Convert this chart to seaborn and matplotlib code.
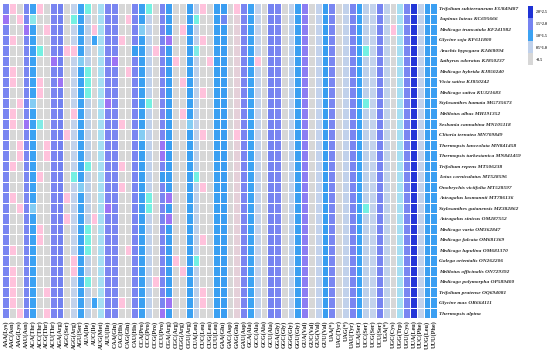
import matplotlib
matplotlib.use("Agg")
import numpy as np
import pandas as pd
import matplotlib.pyplot as plt
import seaborn as sns
from matplotlib.colors import LinearSegmentedColormap

# codons on the x axis (alphabetical, A C G U)
codons = [
    "AAA(Lys)", "AAC(Asn)", "AAG(Lys)", "AAU(Asn)", "ACA(Thr)", "ACC(Thr)", "ACG(Thr)", "ACU(Thr)",
    "AGA(Arg)", "AGC(Ser)", "AGG(Arg)", "AGU(Ser)", "AUA(Ile)", "AUC(Ile)", "AUG(Met)", "AUU(Ile)",
    "CAA(Gln)", "CAC(His)", "CAG(Gln)", "CAU(His)", "CCA(Pro)", "CCC(Pro)", "CCG(Pro)", "CCU(Pro)",
    "CGA(Arg)", "CGC(Arg)", "CGG(Arg)", "CGU(Arg)", "CUA(Leu)", "CUC(Leu)", "CUG(Leu)", "CUU(Leu)",
    "GAA(Glu)", "GAC(Asp)", "GAG(Glu)", "GAU(Asp)", "GCA(Ala)", "GCC(Ala)", "GCG(Ala)", "GCU(Ala)",
    "GGA(Gly)", "GGC(Gly)", "GGG(Gly)", "GGU(Gly)", "GUA(Val)", "GUC(Val)", "GUG(Val)", "GUU(Val)",
    "UAA(*)", "UAC(Tyr)", "UAG(*)", "UAU(Tyr)", "UCA(Ser)", "UCC(Ser)", "UCG(Ser)", "UCU(Ser)",
    "UGA(*)", "UGC(Cys)", "UGG(Trp)", "UGU(Cys)", "UUA(Leu)", "UUC(Phe)", "UUG(Leu)", "UUU(Phe)",
]

species = [
    "Trifolium subterraneum EU849487", "Lupinus luteus KC695666", "Medicago truncatula KF241982",
    "Glycine soja KF611800", "Arachis hypogaea KJ468094", "Lathyrus odoratus KJ850237",
    "Medicago hybrida KJ850240", "Vicia sativa KJ850242", "Medicago sativa KU321683",
    "Stylosanthes hamata MG735673", "Melilotus albus MH191352", "Sesbania cannabina MN105118",
    "Clitoria ternatea MN709849", "Thermopsis lanceolata MN841458", "Thermopsis turkestanica MN841459",
    "Trifolium repens MT506238", "Lotus corniculatus MT528596", "Onobrychis viciifolia MT528597",
    "Astragalus laxmannii MT786136", "Stylosanthes guianensis MZ382862", "Astragalus sinicus OM287552",
    "Medicago varia OM362847", "Medicago falcata OM681369", "Medicago lupulina OM681370",
    "Galega orientalis ON262206", "Melilotus officinalis ON729392", "Medicago polymorpha OP589400",
    "Trifolium pratense OQ694081", "Glycine max OR664111", "Thermopsis alpina",
]

# RSCU values, one row per species (64 codons each)
rscu = [
    [1.60,0.55,0.45,1.60,1.25,0.55,0.40,1.62,1.85,0.40,0.70,1.25,0.96,0.44,1.00,1.58,
     1.60,0.42,0.45,1.62,1.30,0.96,0.42,1.62,1.35,0.40,0.44,1.30,0.80,0.55,0.40,1.30,
     1.38,0.42,0.55,1.62,1.20,0.68,0.42,1.75,1.62,0.40,0.70,1.30,1.55,0.44,0.68,1.40,
     1.60,0.42,0.72,1.62,1.25,0.80,0.68,1.70,0.75,0.44,1.00,1.60,2.10,0.70,1.30,1.32],
    [1.50,0.42,0.55,1.60,0.98,0.44,0.40,1.62,1.85,0.40,0.96,1.25,0.88,0.44,1.00,1.58,
     1.60,0.42,0.55,1.62,1.30,0.75,0.42,1.62,1.35,0.40,0.44,1.30,0.96,0.45,0.40,1.30,
     1.45,0.42,0.48,1.62,1.20,0.68,0.42,1.75,1.62,0.40,0.70,1.30,1.55,0.44,0.68,1.40,
     1.60,0.42,0.72,1.62,1.25,0.80,0.68,1.70,0.75,0.44,1.00,1.60,2.05,0.70,1.30,1.32],
    [1.60,0.42,0.45,1.50,1.25,0.44,0.55,1.62,1.85,0.40,0.70,1.25,0.88,0.55,1.00,1.58,
     1.60,0.42,0.45,1.62,1.02,0.75,0.42,1.62,1.35,0.40,0.55,1.30,0.80,0.45,0.40,1.30,
     1.38,0.42,0.48,1.62,1.20,0.68,0.42,1.75,1.62,0.40,0.70,1.30,1.55,0.44,0.68,1.40,
     1.60,0.42,0.72,1.62,1.25,0.80,0.68,1.70,0.75,0.55,1.00,1.60,2.10,0.70,1.30,1.32],
    [1.60,0.56,0.45,1.60,1.25,0.44,0.40,1.62,1.85,0.40,0.70,1.25,0.88,1.20,1.00,1.58,
     1.60,0.55,0.45,1.62,1.30,0.75,0.42,1.62,1.50,0.40,0.44,1.30,0.80,0.56,0.40,1.30,
     1.38,0.42,0.48,1.62,1.20,0.68,0.42,1.75,1.62,0.40,0.70,1.30,1.55,0.44,0.68,1.40,
     1.60,0.42,0.72,1.62,1.25,0.80,0.68,1.70,0.75,0.44,1.00,1.60,2.10,0.70,1.30,1.32],
    [1.60,0.42,0.45,1.60,1.25,0.96,0.40,1.62,1.85,0.55,0.56,1.25,0.88,0.44,1.00,1.58,
     1.60,0.42,0.45,1.40,1.30,0.75,0.55,1.62,1.35,0.40,0.44,1.30,0.97,0.45,0.40,1.30,
     1.38,0.42,0.48,1.62,1.20,0.68,0.42,1.75,1.62,0.40,0.70,1.30,1.55,0.44,0.68,1.40,
     1.60,0.42,0.72,1.62,1.25,0.96,0.68,1.70,0.75,0.44,1.00,1.60,2.10,0.70,1.30,1.32],
    [1.60,0.42,0.45,1.60,1.25,0.44,0.40,1.50,1.85,0.40,0.70,1.02,0.88,0.44,1.00,1.58,
     1.50,0.42,0.45,1.62,1.30,0.75,0.42,1.62,1.35,0.55,0.44,1.30,0.80,0.45,0.55,1.30,
     1.38,0.42,0.48,1.62,1.20,0.55,0.42,1.75,1.62,0.40,0.70,1.30,1.55,0.44,0.68,1.40,
     1.60,0.42,0.72,1.62,1.25,0.80,0.68,1.70,0.75,0.44,1.00,1.60,2.10,0.70,1.30,1.32],
    [1.60,0.55,0.45,1.60,1.25,0.44,0.40,1.62,1.85,0.40,0.70,1.25,0.96,0.44,1.00,1.58,
     1.60,0.42,0.55,1.62,1.30,0.75,0.42,1.62,1.35,0.40,0.44,1.30,0.80,0.45,0.40,1.30,
     1.38,0.42,0.48,1.62,1.20,0.68,0.42,1.75,1.62,0.40,0.70,1.30,1.55,0.44,0.68,1.40,
     1.60,0.42,0.72,1.62,1.25,0.80,0.68,1.70,0.75,0.44,1.00,1.60,2.10,0.70,1.30,1.32],
    [1.60,0.55,0.45,1.60,1.25,0.55,0.40,1.62,1.50,0.40,0.70,1.25,0.96,0.44,1.00,1.58,
     1.60,0.42,0.45,1.62,1.30,0.75,0.42,1.62,1.35,0.40,0.55,1.30,0.80,0.45,0.40,1.30,
     1.38,0.42,0.48,1.62,1.20,0.68,0.42,1.75,1.62,0.40,0.70,1.30,1.55,0.44,0.68,1.40,
     1.60,0.42,0.72,1.62,1.25,0.80,0.68,1.70,0.75,0.44,1.00,1.60,2.10,0.70,1.30,1.32],
    [1.60,0.42,0.45,1.60,1.25,0.55,0.40,1.62,1.85,0.40,0.70,1.25,0.96,0.44,1.00,1.58,
     1.60,0.42,0.45,1.62,1.30,0.75,0.42,1.62,1.35,0.40,0.44,1.30,0.80,0.55,0.40,1.30,
     1.38,0.42,0.48,1.62,1.20,0.68,0.42,1.75,1.62,0.40,0.70,1.30,1.55,0.44,0.68,1.40,
     1.60,0.42,0.72,1.62,1.25,0.80,0.68,1.70,0.75,0.44,1.00,1.60,2.10,0.70,1.30,1.32],
    [1.60,0.42,0.55,1.60,1.02,0.44,0.40,1.62,1.85,0.40,0.70,1.25,0.88,0.44,1.00,1.50,
     1.60,0.42,0.45,1.62,1.30,0.96,0.42,1.62,1.35,0.40,0.44,1.30,0.80,0.45,0.40,1.30,
     1.38,0.42,0.48,1.62,1.20,0.68,0.42,1.75,1.62,0.40,0.70,1.30,1.55,0.44,0.68,1.40,
     1.60,0.42,0.72,1.62,1.25,0.96,0.68,1.70,0.75,0.44,1.00,1.60,2.10,0.70,1.30,1.32],
    [1.60,0.55,0.45,1.60,1.25,0.44,0.40,1.62,1.85,0.40,0.56,1.25,0.88,0.44,1.00,1.58,
     1.60,0.42,0.45,1.62,1.30,0.75,0.42,1.62,1.35,0.40,0.55,1.30,0.80,0.45,0.40,1.30,
     1.38,0.42,0.48,1.62,1.20,0.68,0.42,1.75,1.62,0.40,0.70,1.30,1.55,0.44,0.68,1.40,
     1.60,0.42,0.72,1.62,1.25,0.80,0.68,1.70,0.75,0.44,1.00,1.60,2.10,0.70,1.30,1.32],
    [1.60,0.55,0.45,1.50,1.25,0.97,0.40,1.62,1.85,0.40,0.70,1.25,0.88,0.44,1.00,1.58,
     1.60,0.55,0.45,1.62,1.30,0.75,0.42,1.62,1.35,0.40,0.44,1.02,0.80,0.45,0.40,1.30,
     1.38,0.42,0.48,1.62,1.20,0.68,0.42,1.75,1.62,0.40,0.70,1.30,1.55,0.44,0.68,1.40,
     1.60,0.42,0.72,1.62,1.25,0.80,0.68,1.70,0.75,0.44,1.00,1.60,2.10,0.70,1.30,1.32],
    [1.60,0.42,0.45,1.60,1.25,0.44,0.40,1.62,1.85,0.55,0.70,1.25,0.88,0.44,1.00,1.58,
     1.60,0.42,0.45,1.62,1.02,0.75,0.42,1.62,1.35,0.40,0.44,1.30,0.80,0.55,0.40,1.30,
     1.38,0.42,0.56,1.62,1.20,0.68,0.42,1.75,1.62,0.40,0.70,1.30,1.55,0.44,0.68,1.40,
     1.60,0.42,0.72,1.62,1.25,0.80,0.68,1.70,0.75,0.44,1.00,1.60,2.10,0.70,1.30,1.32],
    [1.60,0.42,0.55,1.60,1.25,0.44,0.55,1.62,1.85,0.40,0.70,1.25,0.88,0.44,1.00,1.58,
     1.60,0.42,0.45,1.62,1.30,0.75,0.42,1.50,1.35,0.40,0.44,1.30,0.80,0.45,0.40,1.30,
     1.38,0.42,0.48,1.62,1.20,0.68,0.42,1.75,1.62,0.40,0.70,1.30,1.55,0.44,0.68,1.40,
     1.60,0.42,0.72,1.62,1.25,0.80,0.68,1.70,0.75,0.44,1.00,1.60,2.10,0.70,1.30,1.32],
    [1.60,0.42,0.55,1.60,1.25,0.44,0.55,1.62,1.85,0.40,0.70,1.25,0.88,0.44,1.00,1.58,
     1.60,0.42,0.45,1.62,1.30,0.75,0.42,1.50,1.35,0.40,0.44,1.30,0.80,0.45,0.40,1.30,
     1.38,0.42,0.48,1.62,1.20,0.68,0.42,1.75,1.62,0.40,0.70,1.30,1.55,0.44,0.68,1.40,
     1.60,0.42,0.72,1.62,1.25,0.80,0.68,1.70,0.75,0.44,1.00,1.60,2.10,0.70,1.30,1.32],
    [1.60,0.55,0.45,1.60,1.25,0.44,0.40,1.62,1.85,0.40,0.70,1.25,0.96,0.44,1.00,1.58,
     1.60,0.55,0.45,1.62,1.30,0.75,0.42,1.62,1.35,0.40,0.44,1.30,0.80,0.45,0.40,1.30,
     1.38,0.42,0.48,1.62,1.20,0.68,0.42,1.75,1.62,0.40,0.70,1.30,1.55,0.44,0.68,1.40,
     1.60,0.42,0.72,1.62,1.25,0.80,0.68,1.70,0.75,0.44,1.00,1.60,2.10,0.70,1.30,1.32],
    [1.60,0.42,0.45,1.60,1.25,0.55,0.40,1.62,1.85,0.40,0.96,1.25,0.88,0.44,1.00,1.58,
     1.60,0.42,0.45,1.62,1.30,0.75,0.42,1.40,1.35,0.40,0.44,1.30,0.96,0.45,0.40,1.30,
     1.38,0.42,0.48,1.62,1.20,0.68,0.42,1.75,1.62,0.40,0.70,1.30,1.55,0.44,0.68,1.40,
     1.60,0.42,0.72,1.62,1.25,0.80,0.68,1.70,0.75,0.44,1.00,1.60,2.10,0.70,1.30,1.32],
    [1.60,0.42,0.45,1.60,1.25,0.44,0.40,1.62,1.85,0.40,0.70,1.02,0.88,0.44,1.00,1.58,
     1.60,0.55,0.45,1.62,1.30,0.75,0.42,1.62,1.35,0.40,0.44,1.30,0.80,0.55,0.40,1.30,
     1.38,0.42,0.48,1.62,1.20,0.68,0.42,1.75,1.62,0.40,0.70,1.30,1.55,0.44,0.68,1.40,
     1.60,0.42,0.72,1.62,1.25,0.80,0.68,1.70,0.75,0.44,1.00,1.60,2.10,0.70,1.30,1.32],
    [1.60,0.55,0.45,1.60,1.25,0.44,0.40,1.62,1.85,0.55,0.70,1.25,0.88,0.44,1.00,1.58,
     1.60,0.42,0.45,1.62,1.30,0.96,0.42,1.62,1.50,0.40,0.44,1.30,0.80,0.45,0.40,1.30,
     1.38,0.42,0.48,1.62,1.20,0.68,0.42,1.75,1.62,0.40,0.70,1.30,1.55,0.44,0.68,1.40,
     1.60,0.42,0.72,1.62,1.25,0.80,0.68,1.70,0.75,0.44,1.00,1.60,2.10,0.70,1.30,1.32],
    [1.60,0.42,0.55,1.60,1.02,0.44,0.40,1.62,1.85,0.40,0.70,1.25,0.88,0.44,1.00,1.50,
     1.60,0.42,0.45,1.62,1.30,0.96,0.42,1.62,1.35,0.40,0.44,1.30,0.80,0.45,0.40,1.30,
     1.38,0.42,0.48,1.62,1.20,0.68,0.42,1.75,1.62,0.40,0.70,1.30,1.55,0.44,0.68,1.40,
     1.60,0.42,0.72,1.62,1.25,0.96,0.68,1.70,0.75,0.44,1.00,1.60,2.10,0.70,1.30,1.32],
    [1.60,0.42,0.45,1.60,1.25,0.44,0.40,1.62,1.85,0.55,0.70,1.25,0.88,0.55,1.00,1.58,
     1.60,0.42,0.45,1.62,1.30,0.75,0.42,1.62,1.50,0.40,0.44,1.30,0.80,0.45,0.40,1.30,
     1.38,0.42,0.48,1.62,1.20,0.68,0.42,1.75,1.62,0.40,0.70,1.30,1.55,0.44,0.68,1.40,
     1.60,0.42,0.72,1.62,1.25,0.80,0.68,1.70,0.75,0.44,1.00,1.60,2.10,0.70,1.30,1.32],
    [1.60,0.42,0.45,1.60,1.25,0.55,0.40,1.62,1.85,0.40,0.70,1.25,0.96,0.44,1.00,1.58,
     1.60,0.42,0.45,1.62,1.30,0.75,0.42,1.62,1.35,0.40,0.44,1.30,0.80,0.45,0.40,1.30,
     1.38,0.42,0.48,1.62,1.20,0.68,0.42,1.75,1.62,0.40,0.70,1.30,1.55,0.44,0.68,1.40,
     1.60,0.42,0.72,1.62,1.25,0.80,0.68,1.70,0.75,0.44,1.00,1.60,2.10,0.70,1.30,1.32],
    [1.60,0.42,0.45,1.60,1.25,0.55,0.40,1.62,1.85,0.40,0.70,1.25,0.96,0.44,1.00,1.58,
     1.60,0.42,0.45,1.62,1.30,0.75,0.42,1.62,1.35,0.40,0.44,1.30,0.80,0.55,0.40,1.30,
     1.38,0.42,0.48,1.62,1.20,0.68,0.42,1.75,1.62,0.40,0.70,1.30,1.55,0.44,0.68,1.40,
     1.60,0.42,0.72,1.62,1.25,0.80,0.68,1.70,0.75,0.44,1.00,1.60,2.10,0.70,1.30,1.32],
    [1.60,0.55,0.45,1.60,1.25,0.44,0.40,1.62,1.85,0.40,0.70,1.25,0.96,0.44,1.00,1.58,
     1.60,0.42,0.55,1.62,1.30,0.75,0.42,1.62,1.35,0.40,0.44,1.30,0.80,0.45,0.40,1.30,
     1.38,0.42,0.48,1.62,1.20,0.68,0.42,1.75,1.62,0.40,0.70,1.30,1.55,0.44,0.68,1.40,
     1.60,0.42,0.72,1.62,1.25,0.80,0.68,1.70,0.75,0.44,1.00,1.60,2.10,0.70,1.30,1.32],
    [1.60,0.42,0.45,1.60,1.25,0.44,0.40,1.62,1.85,0.40,0.56,1.25,0.88,0.44,1.00,1.58,
     1.60,0.42,0.45,1.62,1.30,0.75,0.42,1.62,1.35,0.55,0.44,1.30,0.96,0.45,0.40,1.30,
     1.38,0.42,0.48,1.62,1.20,0.68,0.42,1.75,1.62,0.40,0.70,1.30,1.55,0.44,0.68,1.40,
     1.60,0.42,0.72,1.62,1.25,0.80,0.68,1.70,0.75,0.44,1.00,1.60,2.10,0.70,1.30,1.32],
    [1.60,0.55,0.45,1.60,1.25,0.44,0.40,1.62,1.85,0.40,0.56,1.25,0.88,0.44,1.00,1.58,
     1.60,0.42,0.45,1.62,1.30,0.75,0.42,1.62,1.35,0.40,0.55,1.30,0.80,0.45,0.40,1.30,
     1.38,0.42,0.48,1.62,1.20,0.68,0.42,1.75,1.62,0.40,0.70,1.30,1.55,0.44,0.68,1.40,
     1.60,0.42,0.72,1.62,1.25,0.80,0.68,1.70,0.75,0.44,1.00,1.60,2.10,0.70,1.30,1.32],
    [1.60,0.55,0.45,1.60,1.25,0.44,0.40,1.62,1.85,0.40,0.70,1.25,0.96,0.44,1.00,1.58,
     1.60,0.42,0.45,1.62,1.30,0.75,0.55,1.62,1.35,0.40,0.44,1.30,0.80,0.45,0.40,1.30,
     1.38,0.42,0.48,1.62,1.20,0.68,0.42,1.75,1.62,0.40,0.70,1.30,1.55,0.44,0.68,1.40,
     1.60,0.42,0.72,1.62,1.25,0.80,0.68,1.70,0.75,0.44,1.00,1.60,2.10,0.70,1.30,1.32],
    [1.60,0.55,0.45,1.60,1.25,0.44,0.55,1.62,1.85,0.40,0.70,1.25,0.88,0.44,1.00,1.58,
     1.60,0.42,0.45,1.62,1.30,0.75,0.42,1.62,1.35,0.40,0.44,1.30,0.80,0.55,0.40,1.30,
     1.38,0.42,0.48,1.62,1.20,0.68,0.42,1.75,1.62,0.40,0.70,1.30,1.55,0.44,0.68,1.40,
     1.60,0.42,0.72,1.62,1.25,0.80,0.68,1.70,0.75,0.44,1.00,1.60,2.10,0.70,1.30,1.32],
    [1.60,0.56,0.45,1.60,1.25,0.44,0.40,1.62,1.85,0.40,0.70,1.25,0.88,1.20,1.00,1.58,
     1.60,0.55,0.45,1.62,1.30,0.75,0.42,1.62,1.50,0.40,0.44,1.30,0.80,0.56,0.40,1.30,
     1.38,0.42,0.48,1.62,1.20,0.68,0.42,1.75,1.62,0.40,0.70,1.30,1.55,0.44,0.68,1.40,
     1.60,0.42,0.72,1.62,1.25,0.80,0.68,1.70,0.75,0.44,1.00,1.60,2.10,0.70,1.30,1.32],
    [1.60,0.42,0.55,1.60,1.25,0.44,0.55,1.62,1.85,0.40,0.70,1.25,0.88,0.44,1.00,1.58,
     1.60,0.42,0.45,1.62,1.30,0.75,0.42,1.50,1.35,0.40,0.44,1.30,0.80,0.45,0.40,1.30,
     1.38,0.42,0.48,1.62,1.20,0.68,0.42,1.75,1.62,0.40,0.70,1.30,1.55,0.44,0.68,1.40,
     1.60,0.42,0.72,1.62,1.25,0.80,0.68,1.70,0.75,0.44,1.00,1.60,2.10,0.70,1.30,1.32],
]

legend_labels = ["2.0~2.5", "1.5~2.0", "1.0~1.5", "0.5~1.0", "<0.5"]
legend_values = [2.25, 1.75, 1.25, 0.75, 0.25]

for row in rscu:
    assert len(row) == len(codons)
assert len(rscu) == len(species)

# colour scale (value -> colour), 0 .. 2.5
nodes = [
    (0.00, "#d7d7d7"), (0.46, "#d7d7d7"), (0.52, "#ffc2dc"), (0.58, "#ffc2dc"),
    (0.66, "#c4d2ec"), (0.90, "#b9cfe8"), (0.96, "#74f0e2"), (1.00, "#a6def2"),
    (1.06, "#3ea8f6"), (1.42, "#3a9cf0"), (1.48, "#9c74f4"), (1.52, "#9c74f4"),
    (1.58, "#7b86f1"), (1.96, "#6f7ff0"), (2.02, "#2338d9"), (2.50, "#1b2bd0"),
]
cmap = LinearSegmentedColormap.from_list("rscu", [(v / 2.5, c) for v, c in nodes])

sns.set_theme(style="white")
plt.rcParams["font.family"] = ["Liberation Serif", "DejaVu Serif"]

fig = plt.figure(figsize=(5.5, 3.53), dpi=100)
ax = fig.add_axes([0.004, 0.098, 0.791, 0.893])

df = pd.DataFrame(rscu, index=species, columns=codons)
sns.heatmap(df, ax=ax, cmap=cmap, vmin=0, vmax=2.5, cbar=False,
            linewidths=0.4, linecolor="white",
            xticklabels=True, yticklabels=True)

ax.yaxis.tick_right()
ax.tick_params(axis="both", length=0, pad=1.5)
ax.set_xlabel("")
ax.set_ylabel("")
for t in ax.get_yticklabels():
    t.set_rotation(0)
    t.set_fontsize(3.9)
    t.set_fontweight("bold")
    t.set_fontstyle("italic")
    t.set_ha("left")
for t in ax.get_xticklabels():
    t.set_rotation(90)
    t.set_fontsize(4.4)
    t.set_fontweight("bold")

# small legend on the right
lax = fig.add_axes([528 / 550, 1 - 65 / 353, 5 / 550, 59 / 353])
leg = pd.DataFrame({"v": legend_values}, index=legend_labels)
sns.heatmap(leg, ax=lax, cmap=cmap, vmin=0, vmax=2.5, cbar=False,
            xticklabels=False, yticklabels=True, linewidths=0)
lax.yaxis.tick_right()
lax.tick_params(axis="both", length=0, pad=2)
lax.set_ylabel("")
for t in lax.get_yticklabels():
    t.set_rotation(0)
    t.set_fontsize(2.8)
    t.set_fontweight("bold")

fig.savefig("out.png", dpi=100)
